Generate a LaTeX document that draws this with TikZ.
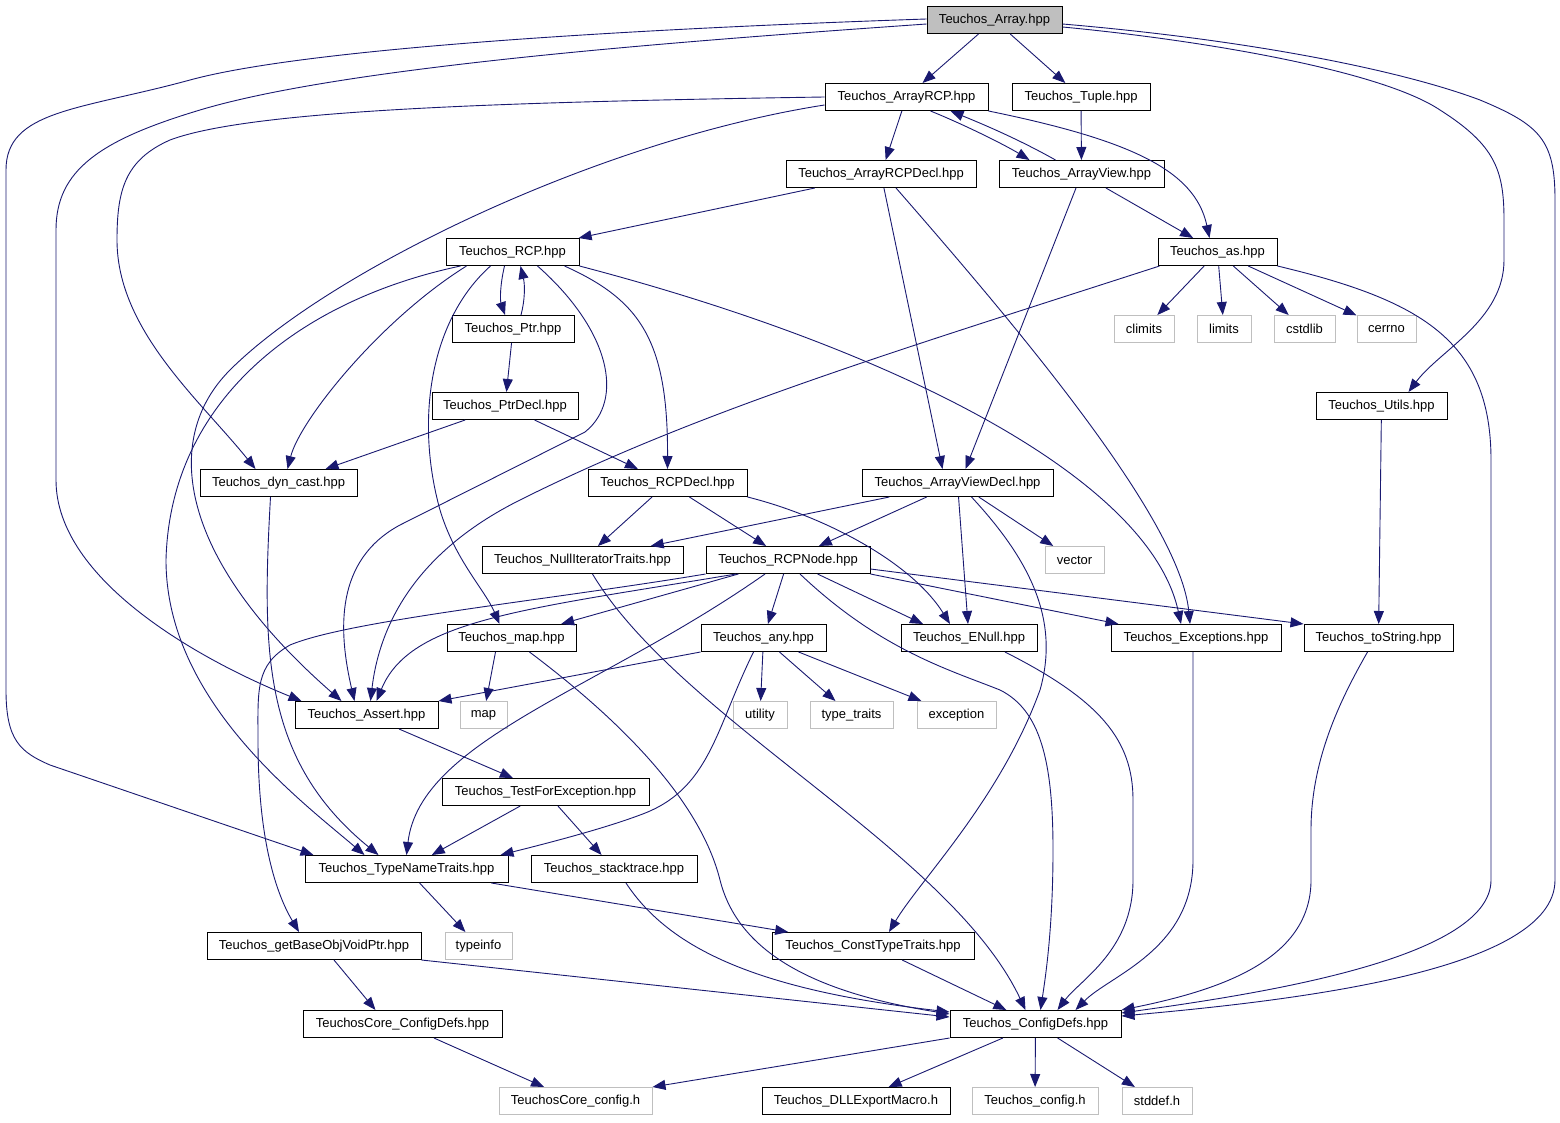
\documentclass[tikz,border=0pt]{standalone}
\usepackage{fontspec}
\setmainfont{Liberation Sans}
\usetikzlibrary{arrows.meta}
\definecolor{edgeblue}{RGB}{25,25,112}
\definecolor{sysgray}{RGB}{191,191,191}
% header box, system header box, include edge
\tikzset{
	hdr/.style={draw=black, line width=1pt, minimum height=27pt, inner sep=0pt, font=\fontsize{13}{15}\selectfont},
	sys/.style={hdr, draw=sysgray},
	dep/.style={draw=edgeblue, line width=0.9pt, -{Triangle[length=13pt,width=10pt]}}
}

\begin{document}
\begin{tikzpicture}[x=1pt, y=-1pt]
	% 1560 x 1123, rows 77pt apart
	\useasboundingbox (0,0) rectangle (1560,1123);
	
	\node[hdr, fill=sysgray, minimum width=135pt] (array) at (994.5,20) {Teuchos\_Array.hpp};
	
	\node[hdr, minimum width=163pt] (arrayrcp) at (906.5,97) {Teuchos\_ArrayRCP.hpp};
	\node[hdr, minimum width=138pt] (tuple) at (1081,97) {Teuchos\_Tuple.hpp};
	
	\node[hdr, minimum width=190pt] (arrayrcpdecl) at (881,174) {Teuchos\_ArrayRCPDecl.hpp};
	\node[hdr, minimum width=165pt] (arrayview) at (1081.5,174) {Teuchos\_ArrayView.hpp};
	
	\node[hdr, minimum width=133pt] (rcp) at (512.5,252) {Teuchos\_RCP.hpp};
	\node[hdr, minimum width=119pt] (as) at (1217.5,252) {Teuchos\_as.hpp};
	
	\node[hdr, minimum width=122pt] (ptr) at (513,329) {Teuchos\_Ptr.hpp};
	\node[sys, minimum width=60pt] (climits) at (1144,329) {climits};
	\node[sys, minimum width=54pt] (limits) at (1224,329) {limits};
	\node[sys, minimum width=61pt] (cstdlib) at (1304.5,329) {cstdlib};
	\node[sys, minimum width=59pt] (cerrno) at (1386.5,329) {cerrno};
	
	\node[hdr, minimum width=146pt] (ptrdecl) at (505,406) {Teuchos\_PtrDecl.hpp};
	\node[hdr, minimum width=131pt] (utils) at (1381.5,406) {Teuchos\_Utils.hpp};
	
	\node[hdr, minimum width=157pt] (dyncast) at (278.5,483) {Teuchos\_dyn\_cast.hpp};
	\node[hdr, minimum width=159pt] (rcpdecl) at (667.5,483) {Teuchos\_RCPDecl.hpp};
	\node[hdr, minimum width=191pt] (arrayviewdecl) at (957.5,483) {Teuchos\_ArrayViewDecl.hpp};
	
	\node[hdr, minimum width=201pt] (nulliter) at (582.5,560) {Teuchos\_NullIteratorTraits.hpp};
	\node[hdr, minimum width=164pt] (rcpnode) at (788,560) {Teuchos\_RCPNode.hpp};
	\node[sys, minimum width=59pt] (vector) at (1074.5,560) {vector};
	
	\node[hdr, minimum width=129pt] (tmap) at (511.5,638) {Teuchos\_map.hpp};
	\node[hdr, minimum width=125pt] (any) at (763.5,638) {Teuchos\_any.hpp};
	\node[hdr, minimum width=136pt] (enull) at (969,638) {Teuchos\_ENull.hpp};
	\node[hdr, minimum width=170pt] (except) at (1196,638) {Teuchos\_Exceptions.hpp};
	\node[hdr, minimum width=149pt] (tostring) at (1378.5,638) {Teuchos\_toString.hpp};
	
	\node[hdr, minimum width=143pt] (assert) at (366.5,715) {Teuchos\_Assert.hpp};
	\node[sys, minimum width=47pt] (map) at (483.5,715) {map};
	\node[sys, minimum width=54pt] (utility) at (760,715) {utility};
	\node[sys, minimum width=83pt] (typetraits) at (851.5,715) {type\_traits};
	\node[sys, minimum width=79pt] (exception) at (956.5,715) {exception};
	
	\node[hdr, minimum width=207pt] (testforexc) at (545.5,792) {Teuchos\_TestForException.hpp};
	
	\node[hdr, minimum width=203pt] (typename) at (406.5,869) {Teuchos\_TypeNameTraits.hpp};
	\node[hdr, minimum width=166pt] (stacktrace) at (614,869) {Teuchos\_stacktrace.hpp};
	
	\node[hdr, minimum width=214pt] (getbase) at (314,946) {Teuchos\_getBaseObjVoidPtr.hpp};
	\node[sys, minimum width=67pt] (typeinfo) at (478.5,946) {typeinfo};
	\node[hdr, minimum width=202pt] (consttype) at (873,946) {Teuchos\_ConstTypeTraits.hpp};
	
	\node[hdr, minimum width=199pt] (coreconfigdefs) at (402.5,1024) {TeuchosCore\_ConfigDefs.hpp};
	\node[hdr, minimum width=171pt] (configdefs) at (1035.5,1024) {Teuchos\_ConfigDefs.hpp};
	
	\node[sys, minimum width=153pt] (coreconfig) at (575.5,1101) {TeuchosCore\_config.h};
	\node[hdr, minimum width=188pt] (dllexport) at (856,1101) {Teuchos\_DLLExportMacro.h};
	\node[sys, minimum width=126pt] (config) at (1035,1101) {Teuchos\_config.h};
	\node[sys, minimum width=70pt] (stddef) at (1157,1101) {stddef.h};
	
	% Teuchos_Array.hpp
	\draw[dep] (array) -- (arrayrcp);
	\draw[dep] (array) -- (tuple);
	\draw[dep] ([yshift=1pt]array.west) .. controls (600,30) and (300,50) .. (190,80) .. controls (80,110) and (6,110) .. (6,170) -- (6,690) .. controls (6,740) and (20,752) .. (50,765) -- ([xshift=9pt]typename.north west);
	\draw[dep] ([yshift=-4pt]array.west) .. controls (700,40) and (350,65) .. (200,110) .. controls (100,140) and (56,170) .. (56,230) -- (56,480) .. controls (56,580) and (200,660) .. ([xshift=7pt]assert.north west);
	\draw[dep] ([yshift=-7pt]array.east) .. controls (1200,40) and (1380,70) .. (1440,110) .. controls (1495,145) and (1504,170) .. (1504,220) -- (1504,260) .. controls (1504,320) and (1440,350) .. ([xshift=27pt]utils.north);
	\draw[dep] ([yshift=-4pt]array.east) .. controls (1250,40) and (1400,70) .. (1480,100) .. controls (1540,125) and (1555,140) .. (1555,200) -- (1555,880) .. controls (1555,970) and (1300,1000) .. ([yshift=-6pt]configdefs.north east);
	
	% Teuchos_ArrayRCP.hpp
	\draw[dep] (arrayrcp) -- (arrayrcpdecl);
	\draw[dep] ([xshift=24pt]arrayrcp.south) .. controls (965,125) and (1005,145) .. ([xshift=-52pt]arrayview.north);
	\draw[dep] (arrayrcp.south east) .. controls (1130,140) and (1195,170) .. ([xshift=-8pt]as.north);
	\draw[dep] (arrayrcp.west) .. controls (500,102) and (250,110) .. (170,140) .. controls (125,160) and (117,190) .. (117,240) .. controls (117,330) and (200,400) .. ([xshift=-23pt]dyncast.north);
	\draw[dep] ([yshift=-8pt]arrayrcp.west) .. controls (600,140) and (330,270) .. (230,370) .. controls (160,440) and (180,560) .. ([xshift=-25pt]assert.north);
	
	\draw[dep] (tuple) -- (arrayview);
	
	% Teuchos_ArrayView.hpp
	\draw[dep] ([xshift=-26pt]arrayview.north) .. controls (1020,140) and (985,125) .. ([xshift=44pt]arrayrcp.south);
	\draw[dep] (arrayview) -- (as);
	\draw[dep] (arrayview) -- ([xshift=8pt]arrayviewdecl.north);
	
	% Teuchos_ArrayRCPDecl.hpp
	\draw[dep] (arrayrcpdecl) -- (rcp);
	\draw[dep] (arrayrcpdecl) -- ([xshift=-15pt]arrayviewdecl.north);
	\draw[dep] ([xshift=15pt]arrayrcpdecl.south) .. controls (1020,330) and (1180,520) .. ([xshift=-6pt]except.north);
	
	% Teuchos_RCP.hpp
	\draw[dep] ([xshift=-8pt]rcp.south) .. controls (500,285) and (500,300) .. ([xshift=-8pt]ptr.north);
	\draw[dep] ([xshift=52pt]rcp.south) .. controls (640,300) and (668,340) .. (rcpdecl.north);
	\draw[dep] ([xshift=-46pt]rcp.south) .. controls (380,320) and (300,420) .. ([xshift=9pt]dyncast.north);
	\draw[dep] ([xshift=-52pt]rcp.south) .. controls (300,300) and (170,400) .. (166,560) .. controls (166,700) and (300,800) .. ([xshift=-42pt]typename.north);
	\draw[dep] ([xshift=-22pt]rcp.south) .. controls (430,320) and (415,420) .. (440,510) .. controls (455,560) and (485,590) .. ([xshift=-12pt]tmap.north);
	\draw[dep] ([xshift=25pt]rcp.south) .. controls (610,330) and (625,400) .. (585,432) -- (400,525) .. controls (335,560) and (338,630) .. ([xshift=-12pt]assert.north);
	\draw[dep] (rcp.south east) .. controls (900,350) and (1150,480) .. ([xshift=-15pt]except.north);
	
	% Teuchos_Ptr.hpp, Teuchos_PtrDecl.hpp
	\draw[dep] ([xshift=8pt]ptr.north) .. controls (525,300) and (525,285) .. ([xshift=8pt]rcp.south);
	\draw[dep] (ptr) -- (ptrdecl);
	\draw[dep] (ptrdecl) -- ([xshift=47pt]dyncast.north);
	\draw[dep] (ptrdecl) -- (rcpdecl);
	
	% Teuchos_as.hpp
	\draw[dep] (as) -- (climits);
	\draw[dep] (as) -- (limits);
	\draw[dep] (as) -- (cstdlib);
	\draw[dep] (as) -- (cerrno);
	\draw[dep] ([xshift=-58pt]as.south) .. controls (900,350) and (700,410) .. (520,500) .. controls (420,550) and (380,620) .. ([xshift=4pt]assert.north);
	\draw[dep] (as.south east) .. controls (1420,300) and (1491,340) .. (1491,460) -- (1491,880) .. controls (1491,960) and (1250,995) .. ([yshift=-3pt]configdefs.north east);
	
	\draw[dep] (utils) -- (tostring);
	\draw[dep] ([xshift=-8pt]dyncast.south) .. controls (262,650) and (262,760) .. ([xshift=-28pt]typename.north);
	
	% Teuchos_RCPDecl.hpp
	\draw[dep] (rcpdecl) -- (nulliter);
	\draw[dep] (rcpdecl) -- (rcpnode);
	\draw[dep] (rcpdecl.south east) .. controls (820,515) and (910,560) .. ([xshift=-19pt]enull.north);
	
	% Teuchos_ArrayViewDecl.hpp
	\draw[dep] (arrayviewdecl) -- (nulliter);
	\draw[dep] (arrayviewdecl) -- (rcpnode);
	\draw[dep] (arrayviewdecl) -- (enull);
	\draw[dep] (arrayviewdecl) -- (vector);
	\draw[dep] ([xshift=14pt]arrayviewdecl.south) .. controls (1030,560) and (1060,620) .. (1040,690) .. controls (1000,800) and (920,880) .. ([xshift=16pt]consttype.north);
	
	\draw[dep] ([xshift=10pt]nulliter.south) .. controls (680,720) and (950,850) .. ([xshift=-10pt]configdefs.north);
	
	% Teuchos_RCPNode.hpp
	\draw[dep] (rcpnode.south west) .. controls (550,600) and (350,620) .. (290,645) .. controls (255,665) and (258,690) .. (258,740) .. controls (258,850) and (280,900) .. ([xshift=-15pt]getbase.north);
	\draw[dep] ([xshift=-52pt]rcpnode.south) .. controls (520,610) and (410,620) .. ([xshift=10pt]assert.north);
	\draw[dep] (rcpnode) -- (tmap);
	\draw[dep] (rcpnode) -- (any);
	\draw[dep] ([xshift=-23pt]rcpnode.south) .. controls (600,690) and (420,740) .. (typename.north);
	\draw[dep] (rcpnode) -- ([xshift=-46pt]enull.north);
	\draw[dep] (rcpnode.south east) -- ([xshift=8pt]except.north west);
	\draw[dep] ([yshift=-9pt]rcpnode.east) -- (tostring.north west);
	\draw[dep] ([xshift=12pt]rcpnode.south) .. controls (880,650) and (950,670) .. (1000,690) .. controls (1040,710) and (1053,760) .. (1053,850) .. controls (1053,930) and (1045,980) .. ([xshift=5pt]configdefs.north);
	
	% Teuchos_map.hpp
	\draw[dep] ([xshift=-16pt]tmap.south) -- (map);
	\draw[dep] ([xshift=18pt]tmap.south) .. controls (620,720) and (700,800) .. (720,880) .. controls (740,960) and (830,995) .. ([yshift=-4pt]configdefs.north west);
	
	% Teuchos_any.hpp
	\draw[dep] (any.south west) -- (assert.north east);
	\draw[dep] (any) -- (utility);
	\draw[dep] (any) -- (typetraits);
	\draw[dep] (any) -- (exception);
	\draw[dep] ([xshift=-10pt]any.south) .. controls (715,730) and (710,790) .. (640,815) .. controls (600,830) and (540,845) .. ([xshift=-8pt]typename.north east);
	
	% into Teuchos_ConfigDefs.hpp from the right
	\draw[dep] ([xshift=36pt]enull.south) .. controls (1100,700) and (1133,740) .. (1133,800) -- (1133,880) .. controls (1133,950) and (1080,980) .. ([xshift=22pt]configdefs.north);
	\draw[dep] ([xshift=-3pt]except.south) -- (1193,860) .. controls (1193,950) and (1110,975) .. ([xshift=40pt]configdefs.north);
	\draw[dep] ([xshift=-11pt]tostring.south) .. controls (1340,700) and (1311,760) .. (1311,830) -- (1311,880) .. controls (1311,960) and (1220,990) .. (configdefs.north east);
	
	% lower part
	\draw[dep] (assert) -- (testforexc);
	\draw[dep] (testforexc) -- (typename);
	\draw[dep] (testforexc) -- (stacktrace);
	\draw[dep] (typename) -- (typeinfo);
	\draw[dep] (typename) -- (consttype);
	\draw[dep] ([xshift=12pt]stacktrace.south) .. controls (670,950) and (760,990) .. ([yshift=-2pt]configdefs.north west);
	\draw[dep] ([xshift=20pt]getbase.south) -- ([xshift=-27pt]coreconfigdefs.north);
	\draw[dep] (getbase.south east) -- ([yshift=-7pt]configdefs.north west);
	\draw[dep] (consttype) -- (configdefs);
	\draw[dep] (coreconfigdefs) -- (coreconfig);
	\draw[dep] (configdefs.south west) -- (coreconfig.north east);
	\draw[dep] (configdefs) -- (dllexport);
	\draw[dep] (configdefs) -- (config);
	\draw[dep] (configdefs) -- (stddef);
\end{tikzpicture}
\end{document}
